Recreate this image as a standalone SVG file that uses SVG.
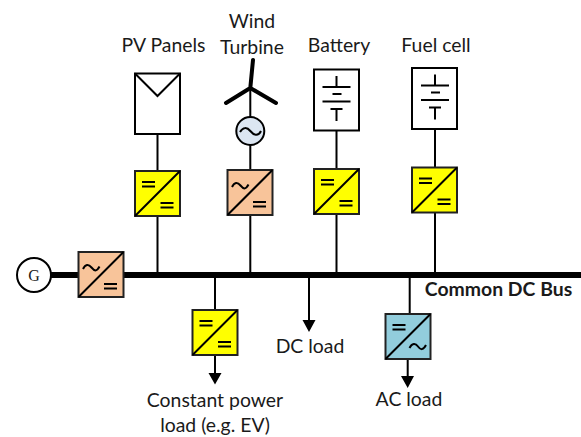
<svg xmlns="http://www.w3.org/2000/svg" width="581" height="437" viewBox="0 0 581 437">
<style>
text{font-family:Lato,"Liberation Sans",sans-serif;font-size:19.400px;fill:#1a1a1a;text-anchor:middle}
.b{fill:#fff;stroke:#000;stroke-width:2}
.y{fill:#ffff00;stroke:#222;stroke-width:2}
.o{fill:#f8c49a;stroke:#222;stroke-width:2}
.t{fill:#92cddc;stroke:#222;stroke-width:2}
.l{fill:none;stroke:#000;stroke-width:2}
.s{fill:none;stroke:#000;stroke-width:2}
</style>
<defs>
<g id="dc1"><path class="s" d="M7 11H20M7 15.500H20"/></g>
<g id="dc2"><path class="s" d="M25.500 32H38.500M25.500 36.500H38.500"/></g>
<path id="ac1" class="s" d="M4.500 17C7 12 10 12 13 15.500S18 20 21 14.500"/>
<path id="ac2" class="s" d="M24 34C26.500 29 30 29 32.500 32.500S37.500 36.500 40.500 31"/>
<g id="bat"><path class="s" d="M23 6V17M9 17H37M19 24H28M9 31.500H37M17 39H29M23 39V51"/></g>
<path id="dg" class="s" d="M0 45L45 0"/>
</defs>
<g id="connectors">
<path class="l" d="M157.500 134V171M157.500 216V275M250.300 88V117M250.300 145V170M250.300 215V275M336.500 131V169M336.500 214V275M435 129V167M435 212V275M215 275V310M215 355V375M309 275V322M409.700 275V314M407.700 359V378"/>
<path d="M51 275H581" fill="none" stroke="#000" stroke-width="6"/>
<path d="M208.500 373H221.500L215 384.500ZM302.500 320H315.500L309 332ZM401 376H414L407.700 388Z" fill="#000"/>
</g>
<g id="generator"><circle cx="34" cy="275" r="17" fill="#fff" stroke="#000" stroke-width="2"/><text x="34" y="280.500" style="font-family:'Liberation Serif',serif;font-size:16px">G</text></g>
<g id="conv-gen" transform="translate(78.500 252)"><rect class="o" width="45" height="45"/><use href="#dg"/><use href="#ac1"/><use href="#dc2"/></g>
<g id="pv"><rect class="b" x="135" y="73.500" width="45" height="60.500"/><path class="s" d="M135 73.500L157.500 96L180 73.500"/><text x="163.500" y="52">PV Panels</text></g>
<g id="conv-pv" transform="translate(135 171)"><rect class="y" width="45" height="45"/><use href="#dg"/><use href="#dc1"/><use href="#dc2"/></g>
<g id="wind">
<path d="M250.300 88L253 60M250.300 88L226 103M250.300 88L276 103" fill="none" stroke="#000" stroke-width="4" stroke-linecap="round"/>
<circle cx="250.300" cy="131" r="14" fill="#dce6f2" stroke="#000" stroke-width="2"/>
<path class="s" d="M240 132C243 127 247 127 250.300 131S258 137 261 131"/>
<text x="252" y="28">Wind</text><text x="252" y="54">Turbine</text></g>
<g id="conv-wind" transform="translate(227.500 170)"><rect class="o" width="45" height="45"/><use href="#dg"/><use href="#ac1"/><use href="#dc2"/></g>
<g id="battery"><rect class="b" x="314" y="69.500" width="45" height="61"/><use href="#bat" transform="translate(313.500 70)"/><text x="339" y="52">Battery</text></g>
<g id="conv-bat" transform="translate(314 169)"><rect class="y" width="45" height="45"/><use href="#dg"/><use href="#dc1"/><use href="#dc2"/></g>
<g id="fuel"><rect class="b" x="412" y="68" width="45" height="61"/><use href="#bat" transform="translate(412 68.500)"/><text x="436" y="52">Fuel cell</text></g>
<g id="conv-fuel" transform="translate(412 167.500)"><rect class="y" width="45" height="45"/><use href="#dg"/><use href="#dc1"/><use href="#dc2"/></g>
<g id="conv-load" transform="translate(192.500 310)"><rect class="y" width="45" height="45"/><use href="#dg"/><use href="#dc1"/><use href="#dc2"/></g>
<g id="conv-ac" transform="translate(385.500 314)"><rect class="t" width="45" height="45"/><use href="#dg"/><use href="#dc1"/><use href="#ac2"/></g>
<g id="labels"><text x="215" y="407">Constant power</text><text x="215" y="432">load (e.g. EV)</text><text x="310" y="353">DC load</text><text x="409" y="406">AC load</text><text x="498.500" y="296" style="font-weight:700">Common DC Bus</text></g>
</svg>
